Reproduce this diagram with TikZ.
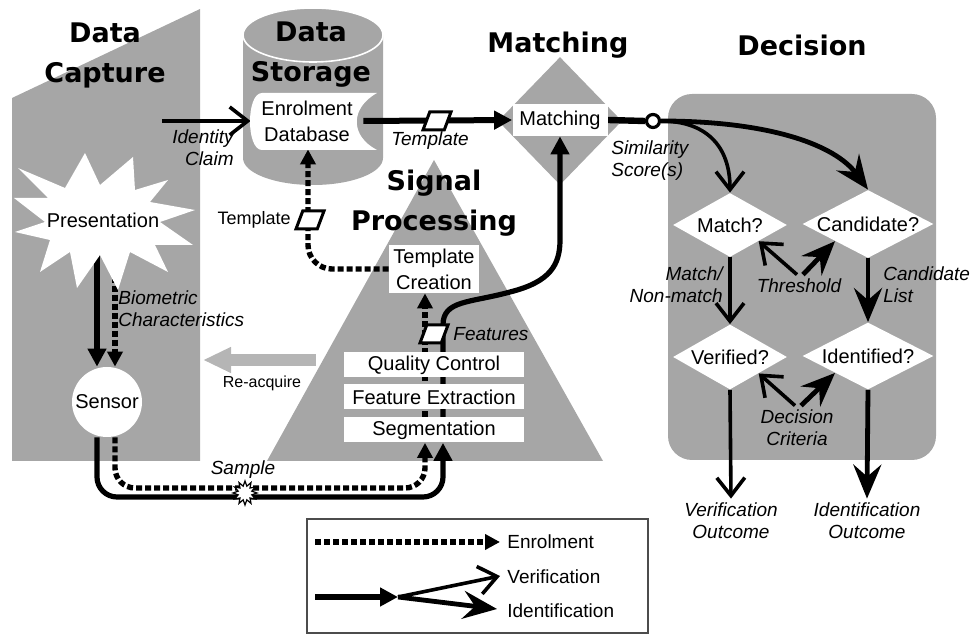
\documentclass[tikz,border=0pt]{standalone}
\usepackage{fontspec}
\setmainfont{Liberation Sans}
\newfontfamily\heavyfont{DejaVu Sans}
\usetikzlibrary{arrows.meta,shapes.geometric}

\definecolor{areagray}{gray}{0.65}
\definecolor{arrowgray}{gray}{0.71}

\pgfdeclarelayer{bg}
\pgfdeclarelayer{wires}
\pgfsetlayers{bg,wires,main}

\tikzset{
  heading/.style={font=\heavyfont\bfseries\fontsize{13.5}{20}\selectfont, align=center, inner sep=0pt},
  stage/.style={fill=white, inner sep=1pt, align=center, font=\fontsize{10}{13}\selectfont},
  plain/.style={inner sep=2pt, align=center, font=\fontsize{10}{13}\selectfont},
  note/.style={inner sep=2pt, font=\itshape\fontsize{9.5}{11}\selectfont},
  keytext/.style={inner sep=2pt, anchor=west, font=\fontsize{9.5}{11}\selectfont},
  query/.style={diamond, fill=white, inner sep=0pt},
  datum/.style={trapezium, trapezium left angle=65, trapezium right angle=115, trapezium stretches=true,
    draw, fill=white, line width=1.5pt, inner sep=1pt, minimum width=14pt, minimum height=9pt},
  enrol/.style={line width=2.7pt, dash pattern=on 3pt off 1.5pt, -{Triangle[length=7.5pt,width=7.5pt]}},
  both/.style={line width=2.6pt, -{Triangle[length=9pt,width=9pt]}},
  verif/.style={line width=1.8pt, -{Straight Barb[length=9pt,width=14pt]}},
  ident/.style={line width=2.4pt, -{Stealth[length=17pt,width=14pt,inset=6pt]}},
}

\begin{document}
\begin{tikzpicture}[x=0.5pt, y=-0.5pt]
\useasboundingbox (0,0) rectangle (971,635);

\begin{pgfonlayer}{bg}
  \fill[areagray] (12,98) -- (200,9) -- (200,461) -- (12,461) -- cycle;
  \fill[areagray] (243,35) -- (243,158) arc[start angle=180, end angle=0, x radius=70, y radius=27]
    -- (383,35) arc[start angle=0, end angle=-180, x radius=70, y radius=27] -- cycle;
  \draw[white, line width=0.8pt] (313,35) ellipse [x radius=70, y radius=27];
  \node[diamond, fill=areagray, inner sep=0pt, minimum width=62pt, minimum height=64pt] (matchzone) at (560,121) {};
  \fill[areagray] (434,160) -- (603,461) -- (267,461) -- cycle;
  \fill[areagray, rounded corners=12pt] (668,94) rectangle (936,460);
\end{pgfonlayer}

\node[heading] (captitle) at (105,55) {Data\\Capture};
\node[heading] (stortitle) at (311,55) {Data\\Storage};
\node[heading] (matchtitle) at (558,45) {Matching};
\node[heading] (dectitle) at (802,45) {Decision};
\node[heading] (sigtitle) at (434,203) {Signal\\Processing};

\fill[white] (85,153) -- (100,185) -- (133,157) -- (135,190) -- (168,180) -- (150,202)
  -- (195,210) -- (160,222) -- (193,245) -- (155,245) -- (168,272) -- (130,252)
  -- (118,290) -- (100,255) -- (77,288) -- (70,252) -- (40,272) -- (50,240)
  -- (15,232) -- (45,222) -- (14,198) -- (48,198) -- (18,168) -- (65,188) -- cycle;
\node[plain] (pres) at (103,220) {Presentation};
\node[circle, fill=white, inner sep=0pt, minimum size=35pt, font=\fontsize{10}{13}\selectfont] (sensor) at (107,402) {Sensor};

\fill[white] (262,93) -- (377,93) .. controls (350,108) and (350,136) .. (377,150)
  -- (262,150) .. controls (246,150) and (246,93) .. (262,93) -- cycle;
\node[plain, minimum width=56pt, minimum height=28pt] (db) at (307,121) {Enrolment\\Database};

\node[stage, minimum width=45pt, minimum height=24pt] (tc) at (434,269) {Template\\Creation};
\node[stage, minimum width=90pt, minimum height=12.5pt] (qc) at (434,365) {Quality Control};
\node[stage, minimum width=90pt, minimum height=12.5pt] (fe) at (434,397) {Feature Extraction};
\node[stage, minimum width=90pt, minimum height=12.5pt] (seg) at (434,430) {Segmentation};
\node[stage, minimum width=47.5pt, minimum height=16pt] (matchbox) at (560,120) {Matching};

\node[circle, draw, fill=white, line width=1.6pt, inner sep=0pt, minimum size=6.5pt] (score) at (653,121) {};

\node[query, minimum width=57pt, minimum height=32pt] (qmatch) at (730,225) {};
\node[query, minimum width=65.5pt, minimum height=34pt] (qcand) at (868,224) {};
\node[query, minimum width=57pt, minimum height=32.5pt] (qverif) at (730,357) {};
\node[query, minimum width=65.5pt, minimum height=33.5pt] (qident) at (868,356) {};
\node[plain] (qmatchtxt) at (qmatch) {Match?};
\node[plain] (qcandtxt) at (qcand) {Candidate?};
\node[plain] (qveriftxt) at (qverif) {Verified?};
\node[plain] (qidenttxt) at (qident) {Identified?};

\node[datum] (tmplA) at (437,121) {};
\node[datum] (tmplB) at (310,220) {};
\node[datum] (feat) at (434,334) {};
\node[star, star points=12, star point ratio=1.7, draw, fill=white, line width=0.6pt, inner sep=0pt, minimum size=12pt] (burst) at (245,493) {};

\node[note, align=right, anchor=east] (claimlab) at (238,148) {Identity\\Claim};
\node[note] (tmpllab) at (430,141) {Template};
\node[note, align=left, anchor=west] (simlab) at (607,161) {Similarity\\Score(s)};
\node[note, align=right, anchor=east] (mnmlab) at (727,285) {Match/\\Non-match};
\node[note, align=left, anchor=west] (candlab) at (879,285) {Candidate\\List};
\node[note] (thr) at (799,286) {Threshold};
\node[note, align=center] (crit) at (797,428) {Decision\\Criteria};
\node[note, align=center] (vout) at (731,521) {Verification\\Outcome};
\node[note, align=center] (iout) at (867,521) {Identification\\Outcome};
\node[note, align=left, anchor=west] (biolab) at (114,309) {Biometric\\Characteristics};
\node[note] (samplab) at (243,470) {Sample};
\node[note, anchor=west] (featlab) at (449,334) {Features};
\node[inner sep=2pt, anchor=east, font=\fontsize{9}{11}\selectfont] (tmplBlab) at (295,220) {Template};
\node[inner sep=2pt, font=\fontsize{8}{10}\selectfont] (reacq) at (262,383) {Re-acquire};

\coordinate (claim) at (162,121);
\coordinate (reA) at (316,360);
\coordinate (reB) at (203,360);

\begin{pgfonlayer}{wires}
  \draw[arrowgray, line width=6pt, -{Triangle[length=14pt,width=12pt]}] (reA) -- (reB);
  \draw[verif] (claim) -- (db.west);
  \draw[both, line width=3pt] (db.east) -- (matchbox.west);
  \draw[line width=3.2pt] (matchbox.east) -- (score.west);
  \draw[both] ([xshift=-3pt]pres.south) -- ([xshift=-5pt]sensor.north);
  \draw[enrol] ([xshift=6pt]pres.south) -- ([xshift=4pt]sensor.north);
  \draw[both, rounded corners=10pt] ([xshift=-5pt]sensor.south) -- (97,497) -- (443,497) -- ([xshift=4.5pt]seg.south);
  \draw[enrol, rounded corners=10pt] ([xshift=4pt]sensor.south) -- (115,488) -- (425,488) -- ([xshift=-4.5pt]seg.south);
  \draw[enrol] ([xshift=-4.5pt]seg.north) -- ([xshift=-4.5pt]tc.south);
  \draw[both] ([xshift=4.5pt]seg.north) -- (443,325) .. controls (443,300) and (470,303) .. (510,292)
    .. controls (550,282) and (560,265) .. (560,240) -- (matchbox.south);
  \draw[enrol, rounded corners=12pt] (tc.west) -- (308,269) -- ([xshift=0.5pt]db.south);
  \draw[verif] (score.east) .. controls (705,121) and (730,145) .. (qmatch.north);
  \draw[ident] (score.east) .. controls (770,121) and (835,145) .. (qcand.north);
  \draw[verif] (qmatch.south) -- (qverif.north);
  \draw[ident] (qcand.south) -- (qident.north);
  \draw[verif] ([xshift=-1pt]thr.north) -- (qmatch.south east);
  \draw[ident] ([xshift=2pt]thr.north) -- (qcand.south west);
  \draw[verif] ([xshift=-1pt]crit.north) -- (qverif.south east);
  \draw[ident] ([xshift=2pt]crit.north) -- (qident.south west);
  \draw[verif] (qverif.south) -- (vout.north);
  \draw[ident] (qident.south) -- (iout.north);
\end{pgfonlayer}

\draw[draw=gray!60!black, line width=1pt] (307,519) rectangle (648,633);
\coordinate (lgE0) at (315,542);
\coordinate (lgE1) at (500,542);
\coordinate (lgB0) at (315,597);
\coordinate (lgfork) at (398,597);
\coordinate (lgV) at (500,576);
\coordinate (lgI) at (497,609);
\draw[enrol] (lgE0) -- (lgE1);
\draw[both] (lgB0) -- (lgfork);
\draw[verif] (lgfork) -- (lgV);
\draw[ident] (lgfork) -- (lgI);
\node[keytext] (lgEtxt) at (503,542) {Enrolment};
\node[keytext] (lgVtxt) at (503,577) {Verification};
\node[keytext] (lgItxt) at (503,611) {Identification};
\end{tikzpicture}
\end{document}
